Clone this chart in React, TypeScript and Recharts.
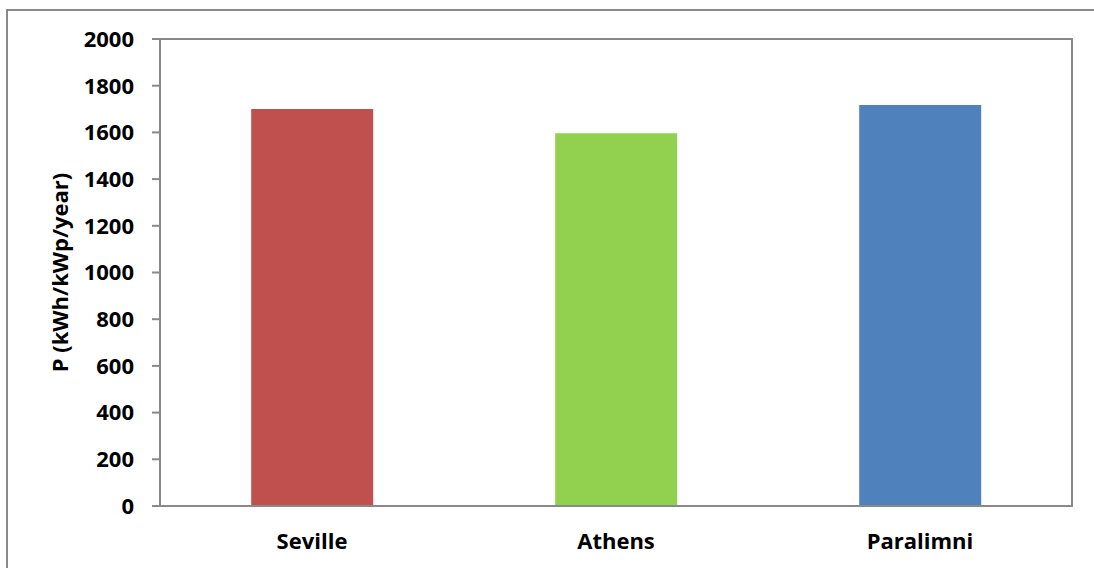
import React from "react";
import { BarChart, Bar, XAxis, YAxis, Cell, ReferenceArea } from "recharts";

const cities = ["Seville", "Athens", "Paralimni"];
const production = [1700, 1596, 1717];
const barColors = ["#C0504D", "#92D050", "#4F81BD"];
const yTicks = [0, 200, 400, 600, 800, 1000, 1200, 1400, 1600, 1800, 2000];

const data = cities.map((city, i) => ({ city, value: production[i] }));

const FONT = "'Open Sans', sans-serif";
const AXIS = "#898989";

const YLabel = (props: any) => {
  const vb = props.viewBox || {};
  const cx = (vb.x ?? 0) + 59;
  const cy = (vb.y ?? 0) + (vb.height ?? 0) / 2;
  return (
    <text
      x={cx}
      y={cy}
      transform={`rotate(-90, ${cx}, ${cy})`}
      textAnchor="middle"
      dominantBaseline="central"
      fontFamily={FONT}
      fontWeight={700}
      fontSize={22}
      fill="#000"
    >
      P (kWh/kWp/year)
    </text>
  );
};

export default function App() {
  return (
    <div
      style={{
        position: "fixed",
        left: 0,
        top: 0,
        width: 1094,
        height: 568,
        background: "#fff",
        overflow: "hidden",
      }}
    >
      <div
        style={{
          position: "absolute",
          left: 6,
          top: 9,
          width: 1200,
          height: 700,
          borderLeft: `2px solid ${AXIS}`,
          borderTop: `2px solid ${AXIS}`,
        }}
      />
      <div style={{ position: "absolute", left: 0, top: 0 }}>
        <BarChart
          width={1094}
          height={568}
          data={data}
          margin={{ top: 39, right: 22, bottom: 22, left: 0 }}
          barCategoryGap="30%"
        >
          <XAxis
            dataKey="city"
            height={40}
            tickSize={0}
            tickMargin={27}
            tickLine={false}
            axisLine={{ stroke: AXIS, strokeWidth: 2 }}
            tick={{ fontFamily: FONT, fontWeight: 700, fontSize: 22, fill: "#000" }}
          />
          <YAxis
            width={160}
            domain={[0, 2000]}
            ticks={yTicks}
            interval={0}
            tickSize={8}
            tickMargin={18}
            tickLine={{ stroke: AXIS, strokeWidth: 2 }}
            axisLine={{ stroke: AXIS, strokeWidth: 2 }}
            tick={{ fontFamily: FONT, fontWeight: 700, fontSize: 22, fill: "#000" }}
            label={<YLabel />}
          />
          <Bar dataKey="value" isAnimationActive={false}>
            {data.map((d, i) => (
              <Cell key={d.city} fill={barColors[i]} />
            ))}
          </Bar>
          <ReferenceArea
            y1={0}
            y2={2000}
            fill="none"
            fillOpacity={0}
            stroke={AXIS}
            strokeWidth={2}
          />
        </BarChart>
      </div>
    </div>
  );
}
